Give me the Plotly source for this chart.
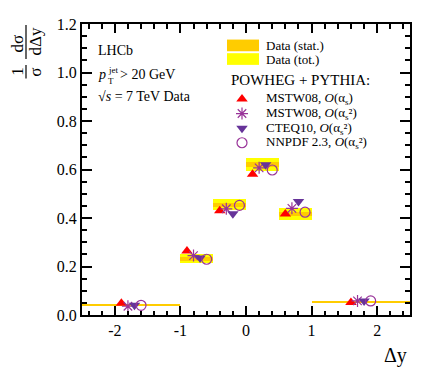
import plotly.graph_objects as go

# ---- data ----
bin_lo = [-2.5, -1.0, -0.5, 0.0, 0.5, 1.0]
bin_hi = [-1.0, -0.5, 0.0, 0.5, 1.0, 2.5]
data_val = [0.040, 0.232, 0.455, 0.620, 0.416, 0.053]
stat_err = [0.002, 0.008, 0.008, 0.010, 0.008, 0.002]
tot_err = [0.0045, 0.018, 0.022, 0.026, 0.024, 0.0045]

mstw_as = [0.048, 0.264, 0.430, 0.580, 0.416, 0.052]
mstw_as2 = [0.036, 0.245, 0.438, 0.607, 0.440, 0.058]
cteq_as2 = [0.040, 0.235, 0.418, 0.620, 0.468, 0.058]
nnpdf_as2 = [0.040, 0.230, 0.452, 0.598, 0.424, 0.058]

model_names = ["MSTW08, <i>O</i>(α<sub>s</sub>)",
               "MSTW08, <i>O</i>(α<sub>s</sub>²)",
               "CTEQ10, <i>O</i>(α<sub>s</sub>²)",
               "NNPDF 2.3, <i>O</i>(α<sub>s</sub>²)"]
model_offsets = [-0.15, -0.05, 0.05, 0.15]

x_ticks = [-2, -1, 0, 1, 2]
x_ticklabels = ["-2", "-1", "0", "1", "2"]
y_ticks = [0.0, 0.2, 0.4, 0.6, 0.8, 1.0, 1.2]
y_ticklabels = ["0.0", "0.2", "0.4", "0.6", "0.8", "1.0", "1.2"]

# ---- layout geometry (window pixels; page body has an 8px margin) ----
OFF = 8
WIN_W, WIN_H = 432, 375
W, H = WIN_W - OFF, WIN_H - OFF
PL, PR, PT, PB = 82, 410, 16, 315          # plot area in window pixels
L, R, T, B = PL - OFF, WIN_W - PR, PT - OFF, WIN_H - PB
FONT = "Liberation Serif"
ORANGE = "#FFCC00"
YELLOW = "#FFFF00"

def px(x):
    return (x - PL) / (PR - PL)

def py(y):
    return (PB - y) / (PB - PT)

centers = [(a + b) / 2 for a, b in zip(bin_lo, bin_hi)]
widths = [b - a for a, b in zip(bin_lo, bin_hi)]

fig = go.Figure()

# total band
fig.add_trace(go.Bar(x=centers, width=widths,
                     base=[v - e for v, e in zip(data_val, tot_err)],
                     y=[2 * e for e in tot_err],
                     marker=dict(color=YELLOW, line=dict(width=0)),
                     showlegend=False, hoverinfo="skip"))
# stat band
fig.add_trace(go.Bar(x=centers, width=widths,
                     base=[v - e for v, e in zip(data_val, stat_err)],
                     y=[2 * e for e in stat_err],
                     marker=dict(color=ORANGE, line=dict(width=0)),
                     showlegend=False, hoverinfo="skip"))

styles = [
    dict(symbol="triangle-up", color="#FF0000", size=10, line=dict(width=0)),
    dict(symbol="asterisk-open", color="#993399", size=10, line=dict(width=1.2, color="#993399")),
    dict(symbol="triangle-down", color="#663399", size=10, line=dict(width=0)),
    dict(symbol="circle-open", color="#993399", size=10, line=dict(width=1.2, color="#993399")),
]
models = [mstw_as, mstw_as2, cteq_as2, nnpdf_as2]
for vals, off, st in zip(models, model_offsets, styles):
    fig.add_trace(go.Scatter(x=[c + off for c in centers], y=vals, mode="markers",
                             marker=st, showlegend=False, hoverinfo="skip"))

# legend markers on a pixel-mapped overlay axis
leg_y = [93, 108, 123, 138]
for st, ly in zip(styles, leg_y):
    fig.add_trace(go.Scatter(x=[242], y=[ly], mode="markers", marker=st,
                             xaxis="x2", yaxis="y2", showlegend=False, hoverinfo="skip"))

ann = []
def text(x, y, s, size=13, xanchor="left", yanchor="middle", angle=0):
    ann.append(dict(x=px(x), y=py(y), xref="paper", yref="paper", text=s,
                    showarrow=False, xanchor=xanchor, yanchor=yanchor,
                    textangle=angle, font=dict(family=FONT, size=size, color="black")))

for name, ly in zip(model_names, leg_y):
    text(264, ly, name, size=13)
text(264, 38, "Data (stat.)", size=13)
text(264, 52, "Data (tot.)", size=13)
text(300, 74, "POWHEG + PYTHIA:", size=15, xanchor="center")

text(96, 43, "LHCb", size=14)
text(96, 68, "<i>p</i>", size=14)
text(106, 63, "jet", size=9)
text(106, 75, "T", size=9)
text(118, 68, "> 20 GeV", size=14)
text(96, 90, "√<i>s</i> = 7 TeV Data", size=14)

# axis titles
text(409, 357, "Δy", size=20, xanchor="right")
text(18, 65, "1", size=17, xanchor="center", angle=-90)
text(36, 65, "σ", size=17, xanchor="center", angle=-90)
text(17, 36, "dσ", size=17, xanchor="center", angle=-90)
text(36, 34, "dΔy", size=17, xanchor="center", angle=-90)

shapes = [
    # legend boxes
    dict(type="rect", xref="paper", yref="paper", x0=px(227), x1=px(259), y0=py(32), y1=py(44),
         fillcolor=ORANGE, line=dict(width=0)),
    dict(type="rect", xref="paper", yref="paper", x0=px(227), x1=px(259), y0=py(46), y1=py(58),
         fillcolor=YELLOW, line=dict(width=0)),
    # fraction lines
    dict(type="line", xref="paper", yref="paper", x0=px(26), x1=px(26), y0=py(58), y1=py(72),
         line=dict(width=1.2, color="black")),
    dict(type="line", xref="paper", yref="paper", x0=px(26), x1=px(26), y0=py(17), y1=py(52),
         line=dict(width=1.2, color="black")),
]

axis_common = dict(showline=True, linewidth=2, linecolor="black", mirror="allticks",
                   ticks="inside", tickwidth=2, tickcolor="black", showgrid=False, zeroline=False,
                   tickfont=dict(family=FONT, size=16, color="black"))

fig.update_layout(
    width=W, height=H, margin=dict(l=L, r=R, t=T, b=B),
    paper_bgcolor="white", plot_bgcolor="white",
    barmode="overlay", bargap=0, showlegend=False,
    xaxis=dict(range=[-2.5, 2.5], tickvals=x_ticks, ticktext=x_ticklabels, ticklen=9,
               minor=dict(dtick=0.2, tick0=0, ticks="inside", ticklen=4.5, tickwidth=1.5,
                          tickcolor="black", showgrid=False),
               **axis_common),
    yaxis=dict(range=[0, 1.2], tickvals=y_ticks, ticktext=y_ticklabels, ticklen=10,
               minor=dict(dtick=0.05, tick0=0, ticks="inside", ticklen=5, tickwidth=1.5,
                          tickcolor="black", showgrid=False),
               **axis_common),
    xaxis2=dict(range=[PL, PR], overlaying="x", visible=False, fixedrange=True),
    yaxis2=dict(range=[PB, PT], overlaying="y", visible=False, fixedrange=True),
    annotations=ann, shapes=shapes,
)

fig.write_html("out.html")
